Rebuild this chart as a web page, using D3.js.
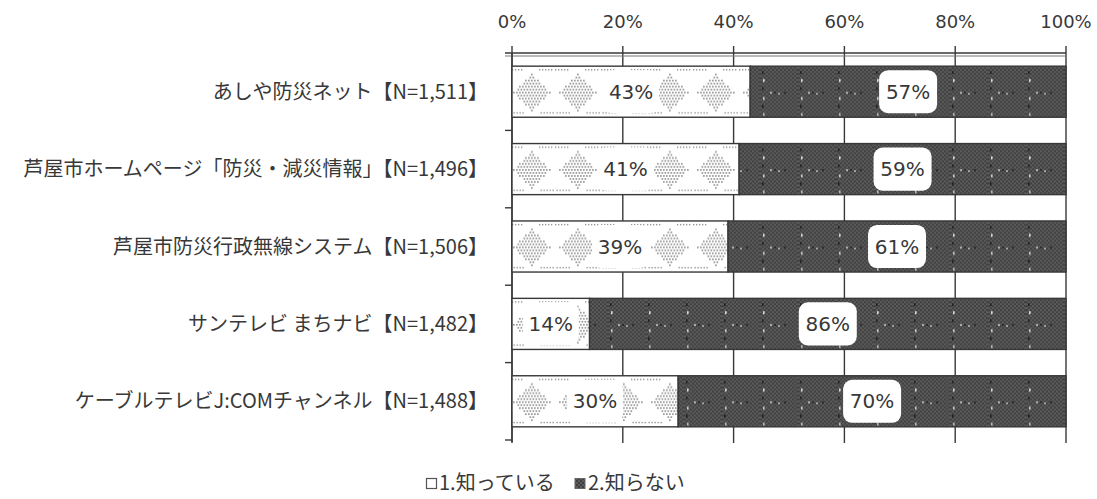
<!DOCTYPE html>
<meta charset="utf-8">
<script src="https://d3js.org/d3.v7.min.js"></script>
<style>
  body { margin: 0; background: #fff; }
</style>
<div id="chart"></div>
<script>

// data
const categories = [
  "あしや防災ネット【N=1,511】",
  "芦屋市ホームページ「防災・減災情報」【N=1,496】",
  "芦屋市防災行政無線システム【N=1,506】",
  "サンテレビ まちナビ【N=1,482】",
  "ケーブルテレビJ:COMチャンネル【N=1,488】"
];
const knowPct = [43, 41, 39, 14, 30];
const dontKnowPct = [57, 59, 61, 86, 70];
const seriesNames = ["1.知っている", "2.知らない"];
const tickValues = [0, 20, 40, 60, 80, 100];

const W = 1097, H = 499;
const plotTop = 53, plotBottom = 440;
const ink = "#383838";
const jpFont = "'Noto Sans CJK JP', sans-serif";
const numFont = "'DejaVu Sans', Verdana, sans-serif";

const svg = d3.select("#chart").append("svg")
    .attr("width", W)
    .attr("height", H);

const x = d3.scaleLinear().domain([0, 100]).range([512, 1066]);
const y = d3.scaleBand().domain(categories).range([plotTop, plotBottom])
    .paddingInner(0.34).paddingOuter(0.17);

// patterns
const defs = svg.append("defs");

// light: dotted diamonds on white, one pattern per row so it lines up with the bar
const pw = 46;
categories.forEach(function(c, i) {
  const bh = y.bandwidth();
  const p = defs.append("pattern")
      .attr("id", "light" + i)
      .attr("patternUnits", "userSpaceOnUse")
      .attr("x", x(0) - 4).attr("y", y(c))
      .attr("width", pw).attr("height", bh);
  p.append("rect").attr("width", pw).attr("height", bh).attr("fill", "#fff");
  const mid = bh / 2;
  for (let dy = -18; dy <= 18; dy += 3) {
    const half = 18 - Math.abs(dy);
    const shift = (Math.abs(dy) / 3) % 2 ? 1.5 : 0;
    for (let dx = -half + shift; dx <= half; dx += 3) {
      p.append("rect").attr("x", pw / 2 + dx).attr("y", mid + dy)
        .attr("width", 1.7).attr("height", 1.7).attr("fill", "#999");
    }
  }
  // dotted rows at the edges
  for (let dx = 1; dx < pw; dx += 3) {
    if (Math.abs(dx - pw / 2) < 8) continue;
    p.append("rect").attr("x", dx).attr("y", 3).attr("width", 1.3).attr("height", 1.3).attr("fill", "#888");
    p.append("rect").attr("x", dx + 1.5).attr("y", bh - 5).attr("width", 1.3).attr("height", 1.3).attr("fill", "#888");
  }
});

// dark: fine checker on dark grey
const dk = defs.append("pattern")
    .attr("id", "darkfine")
    .attr("patternUnits", "userSpaceOnUse")
    .attr("width", 4).attr("height", 4);
dk.append("rect").attr("width", 4).attr("height", 4).attr("fill", "#5c5c5c");
dk.append("rect").attr("x", 0).attr("y", 0).attr("width", 2).attr("height", 2).attr("fill", "#404040");
dk.append("rect").attr("x", 2).attr("y", 2).attr("width", 2).attr("height", 2).attr("fill", "#404040");

const dk2 = defs.append("pattern")
    .attr("id", "dark")
    .attr("patternUnits", "userSpaceOnUse")
    .attr("width", 38).attr("height", y.step())
    .attr("y", plotTop);
dk2.append("rect").attr("width", 38).attr("height", y.step()).attr("fill", "url(#darkfine)");
// speckled vertical seams
[[2, 18, "#222"], [3, 26, "#ddd"], [2, 34, "#222"], [3, 44, "#ccc"], [2, 52, "#1e1e1e"], [3, 60, "#bbb"]]
  .forEach(function(s) {
    dk2.append("rect").attr("x", s[0]).attr("y", s[1]).attr("width", 1.6).attr("height", 3).attr("fill", s[2]);
  });
[[10, 39, "#ccc"], [14, 39, "#222"], [18, 40, "#bbb"], [24, 39, "#222"]]
  .forEach(function(s) {
    dk2.append("rect").attr("x", s[0]).attr("y", s[1]).attr("width", 2).attr("height", 1.5).attr("fill", s[2]);
  });

// vertical gridlines + top ticks
svg.append("g").selectAll("line")
  .data(tickValues)
  .join("line")
    .attr("x1", d => x(d)).attr("x2", d => x(d))
    .attr("y1", plotTop - 7).attr("y2", plotBottom + 3)
    .attr("stroke", ink).attr("stroke-width", 1.4);

// top axis line
svg.append("line")
    .attr("x1", x(0) - 7).attr("x2", x(100))
    .attr("y1", plotTop).attr("y2", plotTop)
    .attr("stroke", ink).attr("stroke-width", 1.4);
svg.append("line")
    .attr("x1", x(0) - 7).attr("x2", x(100))
    .attr("y1", plotTop + 3).attr("y2", plotTop + 3)
    .attr("stroke", "#777").attr("stroke-width", 1);

// top tick labels
svg.append("g").selectAll("text")
  .data(tickValues)
  .join("text")
    .attr("x", d => x(d)).attr("y", 28)
    .attr("text-anchor", "middle")
    .attr("font-family", numFont).attr("font-size", 18)
    .attr("fill", ink)
    .text(d => d + "%");

// left axis line and boundary ticks
svg.append("line")
    .attr("x1", x(0)).attr("x2", x(0))
    .attr("y1", plotTop).attr("y2", plotBottom + 2)
    .attr("stroke", ink).attr("stroke-width", 1.4);
svg.append("g").selectAll("line")
  .data(d3.range(1, categories.length + 1))
  .join("line")
    .attr("x1", x(0) - 7).attr("x2", x(0))
    .attr("y1", i => plotTop + i * y.step()).attr("y2", i => plotTop + i * y.step())
    .attr("stroke", ink).attr("stroke-width", 1.4);

// bars
const rows = svg.append("g").selectAll("g")
  .data(categories)
  .join("g");

rows.append("rect")
    .attr("x", x(0))
    .attr("y", d => y(d))
    .attr("width", (d, i) => x(knowPct[i]) - x(0))
    .attr("height", y.bandwidth())
    .attr("fill", (d, i) => "url(#light" + i + ")")
    .attr("stroke", ink).attr("stroke-width", 1.4);

rows.append("rect")
    .attr("x", (d, i) => x(knowPct[i]))
    .attr("y", d => y(d))
    .attr("width", (d, i) => x(knowPct[i] + dontKnowPct[i]) - x(knowPct[i]))
    .attr("height", y.bandwidth())
    .attr("fill", "url(#dark)")
    .attr("stroke", ink).attr("stroke-width", 1.4);

// value labels in white boxes
function addLabel(getX, getV, boxW) {
  rows.append("rect")
      .attr("x", (d, i) => getX(i) - boxW / 2)
      .attr("y", d => y(d) + 4)
      .attr("width", boxW).attr("height", y.bandwidth() - 8)
      .attr("rx", 9)
      .attr("fill", "#fff");
  rows.append("text")
      .attr("x", (d, i) => getX(i))
      .attr("y", d => y(d) + y.bandwidth() / 2 + 7)
      .attr("text-anchor", "middle")
      .attr("font-family", numFont).attr("font-size", 20)
      .attr("fill", ink)
      .text((d, i) => getV(i) + "%");
}
addLabel(i => x(knowPct[i] / 2), i => knowPct[i], 56);
addLabel(i => x(knowPct[i] + dontKnowPct[i] / 2), i => dontKnowPct[i], 58);

// category labels
svg.append("g").selectAll("text")
  .data(categories)
  .join("text")
    .attr("x", 488)
    .attr("y", d => y(d) + y.bandwidth() / 2 + 7)
    .attr("text-anchor", "end")
    .attr("font-family", jpFont).attr("font-size", 20)
    .attr("fill", ink)
    .text(d => d);

// legend
const legend = svg.append("g").attr("transform", "translate(426,478)");
legend.append("rect")
    .attr("x", 0.5).attr("y", 0.5).attr("width", 10).attr("height", 10)
    .attr("fill", "#fff").attr("stroke", "#555").attr("stroke-width", 1.2);
legend.append("text")
    .attr("x", 13).attr("y", 12)
    .attr("font-family", jpFont).attr("font-size", 20).attr("fill", ink)
    .text(seriesNames[0]);
legend.append("rect")
    .attr("x", 149).attr("y", 0.5).attr("width", 10).attr("height", 10)
    .attr("fill", "url(#darkfine)").attr("stroke", "#666").attr("stroke-width", 1);
legend.append("text")
    .attr("x", 162).attr("y", 12)
    .attr("font-family", jpFont).attr("font-size", 20).attr("fill", ink)
    .text(seriesNames[1]);

</script>
